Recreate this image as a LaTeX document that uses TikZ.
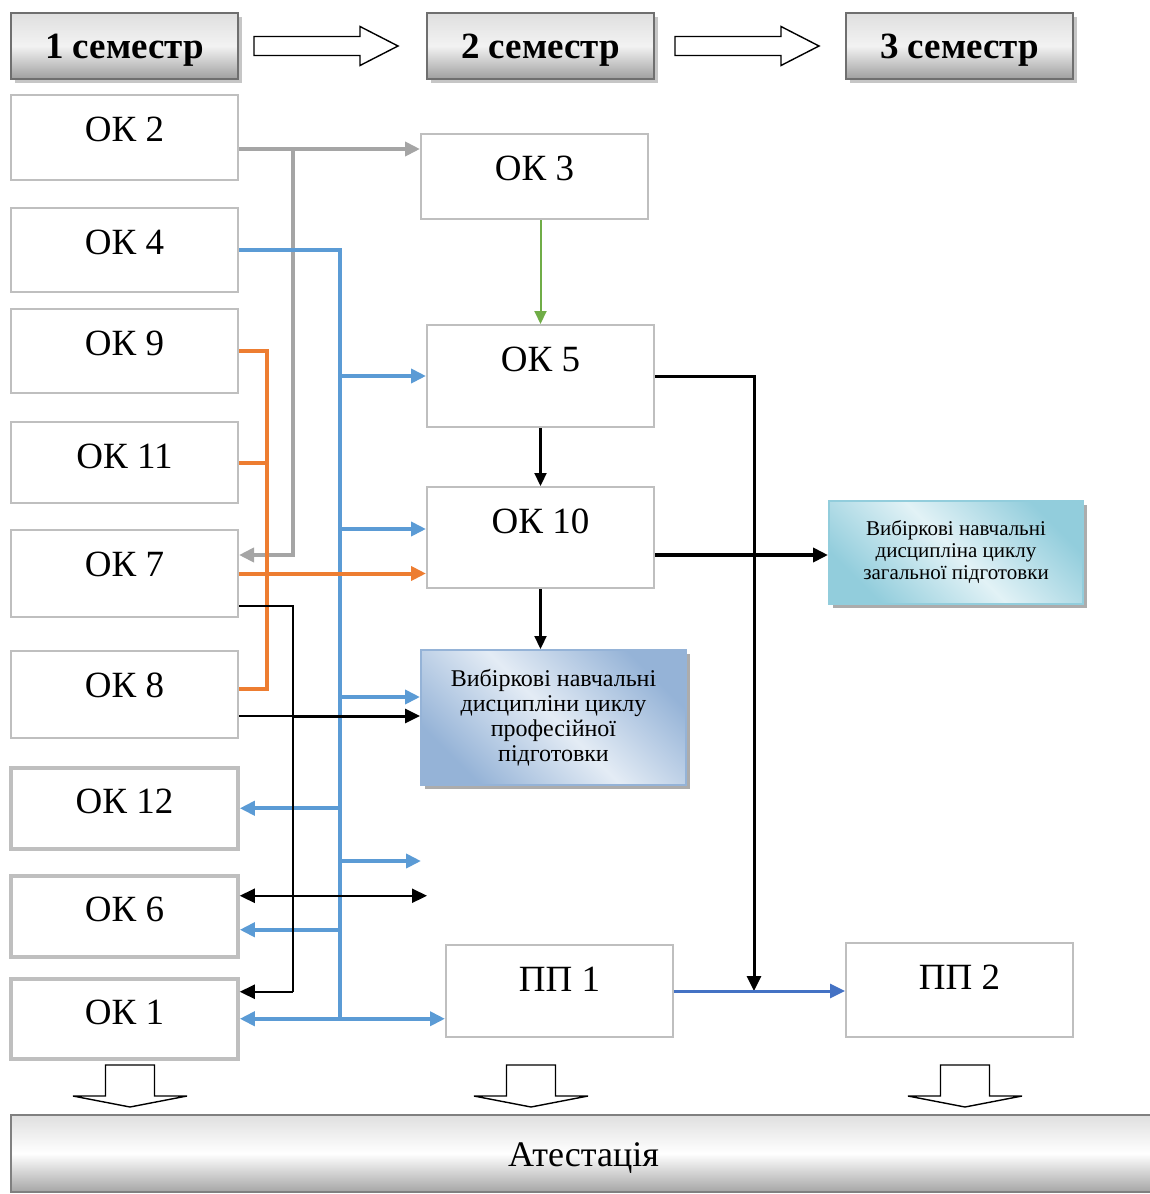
\documentclass[tikz,border=0pt]{standalone}
\usepackage{fontspec}
\setmainfont{Liberation Serif}
\usetikzlibrary{arrows.meta,shadows}

\definecolor{boxgray}{HTML}{BFBFBF}
\definecolor{semgray}{HTML}{6F6F6F}
\definecolor{linegray}{HTML}{A5A5A5}
\definecolor{lineblue}{HTML}{5B9BD5}
\definecolor{lineorange}{HTML}{ED7D31}
\definecolor{linegreen}{HTML}{70AD47}
\definecolor{ppblue}{HTML}{4472C4}
\definecolor{profdark}{HTML}{95B3D7}
\definecolor{proflight}{HTML}{E4ECF5}
\definecolor{tealdark}{HTML}{92CDDC}
\definecolor{teallight}{HTML}{E2F2F6}

\tikzstyle{okbox}   = [draw=boxgray, line width=2pt, fill=white, minimum width=227pt, inner ysep=0pt, text height=46pt, font=\fontsize{37}{40}\selectfont]
\tikzstyle{okboxb}  = [okbox, line width=3.5pt]
\tikzstyle{sembox}  = [draw=semgray, line width=2pt, minimum width=227pt, minimum height=66pt, text height=25pt, text depth=0pt, top color=gray!25, bottom color=gray!75, middle color=white!90!gray, drop shadow={shadow xshift=4pt, shadow yshift=-4pt, fill=gray!45, opacity=1}, font=\fontsize{37}{40}\selectfont\bfseries]
\tikzstyle{profbox} = [draw=profdark, line width=2pt, minimum width=265pt, minimum height=135pt, align=center, top color=profdark, bottom color=profdark, middle color=proflight, shading angle=-45, drop shadow={shadow xshift=4pt, shadow yshift=-4pt, fill=gray!65, opacity=1}, font=\fontsize{24}{25}\selectfont]
\tikzstyle{genbox}  = [draw=tealdark, line width=2pt, minimum width=254pt, minimum height=103pt, align=center, top color=tealdark, bottom color=tealdark, middle color=teallight, shading angle=-45, drop shadow={shadow xshift=4pt, shadow yshift=-4pt, fill=gray!65, opacity=1}, font=\fontsize{21}{22}\selectfont]
\tikzstyle{attbox}  = [draw=gray, line width=2pt, minimum width=1145pt, minimum height=77pt, text height=25pt, text depth=0pt, top color=gray!25, bottom color=gray!70, middle color=white, font=\fontsize{36}{40}\selectfont]
\tikzstyle{hollow}  = [draw=black, line width=1.4pt, fill=white]
\tikzstyle{grayline}   = [draw=linegray, line width=4pt]
\tikzstyle{blueline}   = [draw=lineblue, line width=4pt]
\tikzstyle{orangeline} = [draw=lineorange, line width=4pt]
\tikzstyle{greenline}  = [draw=linegreen, line width=2pt]
\tikzstyle{blackline}  = [draw=black, line width=2.2pt]
\tikzstyle{thinline}   = [draw=black, line width=1.1pt]
\tikzstyle{ppline}     = [draw=ppblue, line width=3pt]
\tikzstyle{smalltip}   = [-{Triangle[length=13pt,width=12pt]}]

\tikzset{
  pics/rarrow/.style={code={\draw[hollow] (0,-9.5) -- (106,-9.5) -- (106,-19.5) -- (144,0) -- (106,19.5) -- (106,9.5) -- (0,9.5) -- cycle;}},
  pics/darrow/.style={code={\draw[hollow] (-24.5,0) -- (24.5,0) -- (24.5,31) -- (57,31) -- (0,42) -- (-57,31) -- (-24.5,31) -- cycle;}}
}

\begin{document}
\begin{tikzpicture}[x=1pt, y=-1pt, >={Triangle[length=15pt,width=14pt]}]
\useasboundingbox (0,0) rectangle (1150,1194);

\node[sembox] (sem1) at (124.5,46) {1 семестр};
\node[sembox] (sem2) at (540.5,46) {2 семестр};
\node[sembox] (sem3) at (959.5,46) {3 семестр};
\pic at ([xshift=15pt]sem1.east) {rarrow};
\pic at ([xshift=20pt]sem2.east) {rarrow};

\node[okbox, anchor=north, text depth=39pt] (ok2) at (124.5,94) {ОК 2};
\node[okbox, anchor=north, text depth=38pt] (ok4) at (124.5,207) {ОК 4};
\node[okbox, anchor=north, text depth=38pt] (ok9) at (124.5,308) {ОК 9};
\node[okbox, anchor=north, text depth=35pt] (ok11) at (124.5,421) {ОК 11};
\node[okbox, anchor=north, text depth=41pt] (ok7) at (124.5,529) {ОК 7};
\node[okbox, anchor=north, text depth=41pt] (ok8) at (124.5,650) {ОК 8};
\node[okboxb, anchor=north, text depth=35pt] (ok12) at (124.5,766) {ОК 12};
\node[okboxb, anchor=north, text depth=35pt] (ok6) at (124.5,874) {ОК 6};
\node[okboxb, anchor=north, text depth=34pt] (ok1) at (124.5,977) {ОК 1};
\node[okbox, anchor=north, text depth=39pt] (ok3) at (534.5,133) {ОК 3};
\node[okbox, anchor=north, text depth=56pt] (ok5) at (540.5,324) {ОК 5};
\node[okbox, anchor=north, text depth=55pt] (ok10) at (540.5,486) {ОК 10};
\node[okbox, anchor=north, text depth=46pt] (pp1) at (559.5,944) {ПП 1};
\node[okbox, anchor=north, text depth=48pt] (pp2) at (959.5,942) {ПП 2};

\node[profbox] (prof) at (553.5,717.5) {Вибіркові навчальні\\дисципліни циклу\\професійної\\підготовки};
\node[genbox] (gen) at (956,552.5) {Вибіркові навчальні\\дисципліна циклу\\загальної підготовки};
\node[attbox] (att) at (583.5,1153.5) {Атестація};

\pic at (130,1065) {darrow};
\pic at (531,1065) {darrow};
\pic at (965,1065) {darrow};

\coordinate (xg) at (293,0);
\coordinate (xb) at (340,0);
\coordinate (xo) at (267,0);
\coordinate (xk) at (754,0);

\coordinate (g2) at ([yshift=-11.5pt]ok2.east);
\coordinate (g7) at ([yshift=18.5pt]ok7.east);
\draw[grayline,->] (g2) -- (g2 -| ok3.west);
\draw[grayline,->] (g2 -| xg) -- (g7 -| xg) -- (g7);

\draw[blueline] (ok4.east) -- (ok4.east -| xb) -- (ok1.east -| xb);
\draw[blueline,->] (ok5.west -| xb) -- (ok5.west);
\coordinate (b10) at ([yshift=8.5pt]ok10.west);
\draw[blueline,->] (b10 -| xb) -- (b10);
\coordinate (bprof) at ([yshift=20.5pt]prof.west);
\draw[blueline,->] (bprof -| xb) -- (bprof);
\draw[blueline,->] (ok12.east -| xb) -- (ok12.east);
\coordinate (bfree) at (421,861);
\draw[blueline,->] (bfree -| xb) -- (bfree);
\coordinate (b6) at ([yshift=-13.5pt]ok6.east);
\draw[blueline,->] (b6 -| xb) -- (b6);
\draw[blueline,<->] (ok1.east) -- (ok1.east -| pp1.west);

\coordinate (o8) at ([yshift=5.5pt]ok8.east);
\draw[orangeline] (ok9.east) -- (ok9.east -| xo) -- (o8 -| xo) -- (o8);
\draw[orangeline] (ok11.east) -- (ok11.east -| xo);
\draw[orangeline,->] (ok7.east) -- (ok7.east -| ok10.west);

\coordinate (k7) at ([yshift=-32.5pt]ok7.east);
\coordinate (k1) at ([yshift=27pt]ok1.east);
\draw[thinline] (k7) -- (k7 -| xg) -- (k1 -| xg);
\draw[blackline,->] (k1 -| xg) -- (k1);
\coordinate (k8) at ([yshift=-21.5pt]ok8.east);
\draw[thinline] (k8) -- (k8 -| xg);
\draw[blackline,line width=3pt,->] (k8 -| xg) -- (k8 -| prof.west);
\coordinate (k6) at ([yshift=20.5pt]ok6.east);
\coordinate (kfree) at (427,0);
\draw[blackline,<->] (k6) -- (k6 -| kfree);

\draw[greenline,smalltip] (ok5.north |- ok3.south) -- (ok5.north);
\draw[blackline,smalltip] (ok5.south) -- (ok10.north);
\draw[blackline,smalltip] (ok10.south) -- (ok10.south |- prof.north);
\draw[blackline,line width=3pt,->] (ok5.east) -- (ok5.east -| xk) -- (pp1.east -| xk);
\coordinate (k10) at ([yshift=-17.5pt]ok10.east);
\draw[blackline,line width=4.5pt,->] (k10) -- (k10 -| gen.west);
\draw[ppline,->] (pp1.east) -- (pp1.east -| pp2.west);
\end{tikzpicture}
\end{document}
